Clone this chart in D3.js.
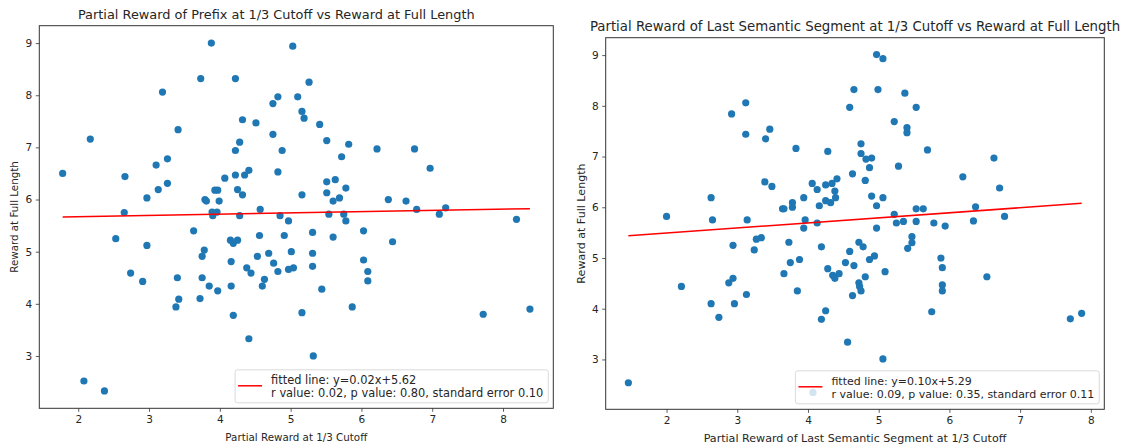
<!DOCTYPE html>
<html>
<head>
<meta charset="utf-8">
<script src="https://cdn.jsdelivr.net/npm/d3@7"></script>
<style>
  body { margin: 0; background: #fff; }
  svg text { font-family: "DejaVu Sans", sans-serif; fill: #262626; }
</style>
</head>
<body>
<div id="canvas"></div>
<script>
// partial reward of the prefix (left panel)
var prefixX = [1.78,2.17,2.66,2.65,2.97,3.10,3.13,3.26,3.26,3.19,3.41,3.73,3.88,3.79,3.81,3.93,3.97,3.99,4.07,3.89,
  3.96,3.90,4.22,4.22,4.28,4.32,4.22,4.25,4.32,4.35,4.41,4.28,4.51,4.57,4.75,4.82,4.75,4.88,4.82,4.85,
  4.97,5.03,5.26,5.10,5.16,5.19,5.41,5.51,5.82,5.72,6.22,6.75,6.97,5.51,5.63,5.16,5.51,5.78,5.60,5.69,
  6.38,6.63,6.78,7.19,7.10,8.19,5.54,5.75,5.78,3.63,4.15,4.19,4.25,4.56,4.91,5.31,5.60,6.03,3.78,3.75,
  4.16,4.53,4.69,4.76,5.01,5.31,5.31,4.82,4.97,5.04,4.38,4.44,4.63,4.60,3.75,3.85,3.97,4.16,3.72,3.42,
  5.44,6.03,6.09,6.09,4.19,5.16,5.87,4.41,2.53,2.97,2.74,2.91,3.40,3.38,6.44,7.72,8.38,5.32,2.08,2.37];
var prefixY = [6.50,7.16,6.44,5.75,6.03,6.66,6.19,6.78,6.31,8.06,7.34,8.32,9.00,6.00,5.97,6.18,6.18,5.97,6.41,5.76,
  5.76,5.69,8.32,6.94,7.10,7.53,6.47,6.19,6.09,6.47,6.56,5.69,7.47,5.81,7.84,7.97,7.25,6.94,6.53,5.69,
  5.59,8.94,8.25,7.97,7.69,7.56,7.44,7.13,7.06,6.82,6.97,6.97,6.60,6.34,6.38,6.09,6.13,6.22,5.97,6.03,
  6.00,5.97,5.81,5.84,5.72,5.62,5.72,5.72,5.59,5.40,5.22,5.16,5.22,5.31,5.31,5.37,5.28,5.40,5.03,4.91,
  4.81,4.91,4.97,4.78,5.00,4.97,4.72,4.62,4.66,4.69,4.69,4.59,4.47,4.34,4.50,4.34,4.25,4.34,4.10,4.09,
  4.28,4.84,4.62,4.44,3.78,3.83,3.94,3.33,5.25,5.12,4.59,4.43,4.50,3.94,5.19,3.80,3.90,3.00,2.52,2.33];

// partial reward of the last semantic segment (right panel)
var segmentX = [1.46,2.00,2.63,2.65,3.14,2.92,3.12,3.12,3.40,3.46,3.83,3.39,3.49,3.64,3.66,3.78,3.78,3.94,4.06,4.13,
  4.16,3.96,3.94,4.13,4.28,4.25,4.34,4.41,4.38,4.39,4.25,4.32,4.65,4.99,5.37,4.59,5.53,5.22,5.40,5.40,
  4.75,4.75,4.82,4.90,4.87,5.69,5.28,4.63,4.81,4.97,5.06,6.63,6.71,6.19,4.90,5.06,4.97,5.53,5.63,5.22,
  5.25,5.35,5.53,5.78,5.94,4.97,6.37,6.34,6.78,3.34,3.27,3.73,4.19,4.72,4.78,4.59,5.47,5.47,5.41,3.75,
  3.88,3.66,4.28,4.35,4.38,4.44,4.53,4.65,4.87,4.94,5.09,4.81,4.72,4.73,4.75,4.63,3.85,4.25,4.19,5.88,
  5.90,5.90,5.90,5.75,6.53,4.56,5.06,7.71,7.87,2.94,3.24,2.21,2.63,2.74,2.88,2.94,2.96,3.13,4.07];
var segmentY = [2.54,5.82,6.19,5.75,5.75,7.84,8.06,7.44,7.35,7.54,7.16,6.50,6.41,5.97,5.97,6.09,6.00,6.19,6.47,6.35,
  6.03,5.75,5.59,5.69,7.10,6.44,6.47,6.56,6.32,6.19,6.13,6.09,8.32,8.32,8.25,7.97,7.97,7.69,7.57,7.47,
  7.25,7.06,6.95,6.97,6.78,7.13,6.81,6.66,6.53,9.01,8.93,6.97,6.38,6.60,6.22,6.19,6.03,5.97,5.97,5.86,
  5.69,5.72,5.72,5.69,5.63,5.59,6.01,5.73,5.82,5.40,5.37,5.31,5.22,5.31,5.22,5.13,5.42,5.30,5.19,4.91,
  4.97,4.69,4.79,4.66,4.60,4.69,4.91,4.85,4.97,5.04,4.73,4.63,4.51,4.44,4.35,4.26,4.35,3.96,3.79,5.00,
  4.81,4.47,4.35,3.94,4.63,3.34,3.01,3.80,3.91,5.25,5.16,4.44,4.10,3.83,4.51,4.60,4.10,4.28,2.35];

var xTicks = [2,3,4,5,6,7,8];
var yTicks = [3,4,5,6,7,8,9];
var titles = ['Partial Reward of Prefix at 1/3 Cutoff vs Reward at Full Length',
  'Partial Reward of Last Semantic Segment at 1/3 Cutoff vs Reward at Full Length'];
var xLabels = ['Partial Reward at 1/3 Cutoff', 'Partial Reward of Last Semantic Segment at 1/3 Cutoff'];
var yLabel = 'Reward at Full Length';
var fitSlope = [0.024, 0.100];
var fitIntercept = [5.624, 5.291];
var fitText = [
  ['fitted line: y=0.02x+5.62', 'r value: 0.02, p value: 0.80, standard error 0.10'],
  ['fitted line: y=0.10x+5.29', 'r value: 0.09, p value: 0.35, standard error 0.11']
];

var W = 1126, H = 445;
var svg = d3.select('#canvas').append('svg')
  .attr('width', W).attr('height', H);

// plot boxes in page pixels, and font sizes (the two panels were scaled a bit differently)
// titleShift: the left title sits a little left of the box centre in the original
var boxes = [
  {l: 39.3, t: 25.7, r: 553.3, b: 408.3, title: 12.9, label: 10.3, legend: 11.4, titleShift: -20},
  {l: 605.7, t: 37.7, r: 1104.3, b: 409.3, title: 13.3, label: 11.1, legend: 11.0, titleShift: 0}
];

// matplotlib style 5% margin around the data
function padded(vals){
  var e = d3.extent(vals), m = (e[1] - e[0]) * 0.05;
  return [e[0] - m, e[1] + m];
}

function panel(i, xs, ys){
  var bx = boxes[i];
  var x = d3.scaleLinear().domain(padded(xs)).range([bx.l, bx.r]);
  var y = d3.scaleLinear().domain(padded(ys)).range([bx.b, bx.t]);
  var g = svg.append('g');

  var pts = xs.map(function(d, k){ return {x: d, y: ys[k]}; });

  g.selectAll('circle').data(pts).enter().append('circle')
    .attr('cx', function(d){ return x(d.x); })
    .attr('cy', function(d){ return y(d.y); })
    .attr('r', 3.6)
    .attr('fill', '#1f77b4');

  var ex = d3.extent(xs);
  var line = d3.line().x(function(d){ return x(d); })
    .y(function(d){ return y(fitSlope[i] * d + fitIntercept[i]); });
  g.append('path').datum(ex).attr('d', line)
    .attr('fill', 'none').attr('stroke', 'red').attr('stroke-width', 1.5);

  // axes
  var ax = g.append('g').attr('transform', 'translate(0,' + bx.b + ')')
    .call(d3.axisBottom(x).tickValues(xTicks).tickSize(3.5).tickPadding(3.5).tickFormat(d3.format('d')));
  var ay = g.append('g').attr('transform', 'translate(' + bx.l + ',0)')
    .call(d3.axisLeft(y).tickValues(yTicks).tickSize(3.5).tickPadding(3.5).tickFormat(d3.format('d')));
  [ax, ay].forEach(function(a){
    a.select('.domain').remove();
    a.selectAll('line').attr('stroke', '#333').attr('stroke-width', 0.8);
    a.selectAll('text').attr('font-size', 10.5).attr('fill', '#262626')
      .attr('font-family', '"DejaVu Sans", sans-serif');
  });

  g.append('rect').attr('x', bx.l).attr('y', bx.t)
    .attr('width', bx.r - bx.l).attr('height', bx.b - bx.t)
    .attr('fill', 'none').attr('stroke', '#333').attr('stroke-width', 1);

  // labels
  g.append('text').attr('x', (bx.l + bx.r) / 2 + bx.titleShift).attr('y', bx.t - 7)
    .attr('text-anchor', 'middle').attr('font-size', bx.title).text(titles[i]);
  g.append('text').attr('x', (bx.l + bx.r) / 2).attr('y', bx.b + 33)
    .attr('text-anchor', 'middle').attr('font-size', bx.label).text(xLabels[i]);
  g.append('text')
    .attr('transform', 'translate(' + (bx.l - 21) + ',' + ((bx.t + bx.b) / 2) + ') rotate(-90)')
    .attr('text-anchor', 'middle').attr('font-size', bx.label).text(yLabel);

  // legend, lower right
  var lg = g.append('g');
  var bgRect = lg.append('rect');
  var t1 = lg.append('text').attr('font-size', bx.legend).text(fitText[i][0]);
  var t2 = lg.append('text').attr('font-size', bx.legend).text(fitText[i][1]);
  var tw = Math.max(t1.node().getComputedTextLength(), t2.node().getComputedTextLength());
  var lw = tw + 41, lh = 33;
  var lx = bx.r - 5 - lw, ly = bx.b - 5.5 - lh;
  bgRect.attr('x', lx).attr('y', ly).attr('width', lw).attr('height', lh)
    .attr('rx', 2.5).attr('fill', 'white').attr('fill-opacity', 0.8)
    .attr('stroke', '#d0d0d0').attr('stroke-width', 0.8);
  t1.attr('x', lx + 36).attr('y', ly + 14);
  t2.attr('x', lx + 36).attr('y', ly + 27);
  lg.append('line').attr('x1', lx + 3).attr('x2', lx + 27)
    .attr('y1', ly + 16).attr('y2', ly + 16)
    .attr('stroke', 'red').attr('stroke-width', 1.5);
}

panel(0, prefixX, prefixY);
panel(1, segmentX, segmentY);
</script>
</body>
</html>
